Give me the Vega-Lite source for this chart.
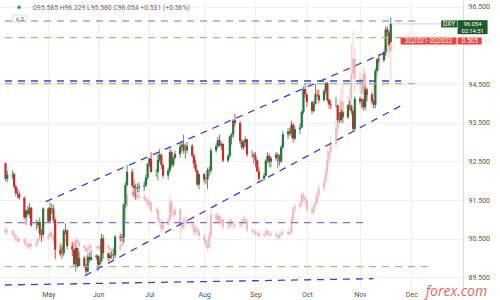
{
  "$schema": "https://vega.github.io/schema/vega-lite/v6.json",
  "width": 463,
  "height": 288,
  "autosize": {"type": "none"},
  "padding": {"left": 0, "top": 0, "right": 37, "bottom": 12},
  "background": "white",
  "config": {"view": {"stroke": null}, "font": "Roboto", "axis": {"title": null}},
  "datasets": {
    "px": [
      {"d":"2021-04-08","o":92.45,"h":92.48,"l":91.99,"c":92.05,"po":0.132,"pc":0.125,"ph":0.136,"pl":0.120},
      {"d":"2021-04-09","o":92.05,"h":92.26,"l":91.96,"c":92.16,"po":0.125,"pc":0.128,"ph":0.134,"pl":0.120},
      {"d":"2021-04-12","o":92.16,"h":92.27,"l":92.04,"c":92.17,"po":0.128,"pc":0.122,"ph":0.131,"pl":0.117},
      {"d":"2021-04-13","o":92.17,"h":92.22,"l":91.78,"c":91.85,"po":0.122,"pc":0.118,"ph":0.127,"pl":0.112},
      {"d":"2021-04-14","o":91.85,"h":91.90,"l":91.60,"c":91.68,"po":0.118,"pc":0.112,"ph":0.122,"pl":0.106},
      {"d":"2021-04-15","o":91.68,"h":91.80,"l":91.55,"c":91.66,"po":0.112,"pc":0.108,"ph":0.117,"pl":0.102},
      {"d":"2021-04-16","o":91.66,"h":91.74,"l":91.50,"c":91.56,"po":0.108,"pc":0.112,"ph":0.118,"pl":0.104},
      {"d":"2021-04-19","o":91.56,"h":91.59,"l":91.00,"c":91.05,"po":0.112,"pc":0.104,"ph":0.115,"pl":0.099},
      {"d":"2021-04-20","o":91.05,"h":91.26,"l":90.85,"c":91.23,"po":0.104,"pc":0.100,"ph":0.109,"pl":0.094},
      {"d":"2021-04-21","o":91.23,"h":91.35,"l":91.10,"c":91.14,"po":0.100,"pc":0.096,"ph":0.105,"pl":0.090},
      {"d":"2021-04-22","o":91.14,"h":91.42,"l":91.05,"c":91.30,"po":0.096,"pc":0.102,"ph":0.108,"pl":0.092},
      {"d":"2021-04-23","o":91.30,"h":91.32,"l":90.80,"c":90.85,"po":0.102,"pc":0.098,"ph":0.106,"pl":0.092},
      {"d":"2021-04-26","o":90.85,"h":91.00,"l":90.72,"c":90.85,"po":0.098,"pc":0.105,"ph":0.110,"pl":0.094},
      {"d":"2021-04-27","o":90.85,"h":90.97,"l":90.77,"c":90.93,"po":0.105,"pc":0.112,"ph":0.117,"pl":0.101},
      {"d":"2021-04-28","o":90.93,"h":91.05,"l":90.55,"c":90.63,"po":0.112,"pc":0.116,"ph":0.124,"pl":0.108},
      {"d":"2021-04-29","o":90.63,"h":90.75,"l":90.42,"c":90.60,"po":0.116,"pc":0.120,"ph":0.126,"pl":0.111},
      {"d":"2021-04-30","o":90.60,"h":91.31,"l":90.60,"c":91.28,"po":0.120,"pc":0.114,"ph":0.124,"pl":0.109},
      {"d":"2021-05-03","o":91.28,"h":91.32,"l":90.90,"c":90.95,"po":0.114,"pc":0.118,"ph":0.124,"pl":0.110},
      {"d":"2021-05-04","o":90.95,"h":91.44,"l":90.94,"c":91.29,"po":0.118,"pc":0.124,"ph":0.130,"pl":0.114},
      {"d":"2021-05-05","o":91.29,"h":91.40,"l":91.15,"c":91.27,"po":0.124,"pc":0.116,"ph":0.128,"pl":0.112},
      {"d":"2021-05-06","o":91.27,"h":91.38,"l":90.90,"c":90.99,"po":0.116,"pc":0.108,"ph":0.120,"pl":0.103},
      {"d":"2021-05-07","o":90.99,"h":91.05,"l":89.98,"c":90.22,"po":0.108,"pc":0.096,"ph":0.112,"pl":0.070},
      {"d":"2021-05-10","o":90.22,"h":90.35,"l":90.04,"c":90.11,"po":0.096,"pc":0.100,"ph":0.106,"pl":0.090},
      {"d":"2021-05-11","o":90.11,"h":90.28,"l":89.98,"c":90.12,"po":0.100,"pc":0.088,"ph":0.104,"pl":0.082},
      {"d":"2021-05-12","o":90.12,"h":90.75,"l":90.05,"c":90.70,"po":0.088,"pc":0.112,"ph":0.118,"pl":0.085},
      {"d":"2021-05-13","o":90.70,"h":90.90,"l":90.60,"c":90.72,"po":0.112,"pc":0.108,"ph":0.118,"pl":0.102},
      {"d":"2021-05-14","o":90.72,"h":90.73,"l":90.23,"c":90.31,"po":0.108,"pc":0.102,"ph":0.112,"pl":0.097},
      {"d":"2021-05-17","o":90.31,"h":90.38,"l":90.05,"c":90.22,"po":0.102,"pc":0.106,"ph":0.111,"pl":0.098},
      {"d":"2021-05-18","o":90.22,"h":90.22,"l":89.77,"c":89.84,"po":0.106,"pc":0.100,"ph":0.110,"pl":0.095},
      {"d":"2021-05-19","o":89.84,"h":90.34,"l":89.65,"c":90.26,"po":0.100,"pc":0.110,"ph":0.116,"pl":0.096},
      {"d":"2021-05-20","o":90.26,"h":90.28,"l":89.74,"c":89.79,"po":0.110,"pc":0.104,"ph":0.114,"pl":0.099},
      {"d":"2021-05-21","o":89.79,"h":90.16,"l":89.79,"c":90.00,"po":0.104,"pc":0.098,"ph":0.108,"pl":0.093},
      {"d":"2021-05-24","o":90.00,"h":90.06,"l":89.75,"c":89.80,"po":0.098,"pc":0.094,"ph":0.102,"pl":0.088},
      {"d":"2021-05-25","o":89.80,"h":89.85,"l":89.53,"c":89.65,"po":0.094,"pc":0.088,"ph":0.098,"pl":0.082},
      {"d":"2021-05-26","o":89.65,"h":90.10,"l":89.63,"c":90.03,"po":0.088,"pc":0.092,"ph":0.098,"pl":0.083},
      {"d":"2021-05-27","o":90.03,"h":90.15,"l":89.88,"c":89.95,"po":0.092,"pc":0.098,"ph":0.104,"pl":0.088},
      {"d":"2021-05-28","o":89.95,"h":90.20,"l":89.93,"c":90.03,"po":0.098,"pc":0.095,"ph":0.103,"pl":0.090},
      {"d":"2021-05-31","o":90.03,"h":90.10,"l":89.95,"c":90.06,"po":0.095,"pc":0.094,"ph":0.099,"pl":0.090},
      {"d":"2021-06-01","o":90.06,"h":90.08,"l":89.66,"c":89.83,"po":0.094,"pc":0.096,"ph":0.101,"pl":0.089},
      {"d":"2021-06-02","o":89.83,"h":90.03,"l":89.80,"c":89.91,"po":0.096,"pc":0.092,"ph":0.100,"pl":0.087},
      {"d":"2021-06-03","o":89.91,"h":90.63,"l":89.89,"c":90.51,"po":0.092,"pc":0.104,"ph":0.110,"pl":0.090},
      {"d":"2021-06-04","o":90.51,"h":90.60,"l":89.98,"c":90.12,"po":0.104,"pc":0.098,"ph":0.110,"pl":0.092},
      {"d":"2021-06-07","o":90.12,"h":90.14,"l":89.92,"c":90.00,"po":0.098,"pc":0.094,"ph":0.102,"pl":0.089},
      {"d":"2021-06-08","o":90.00,"h":90.15,"l":89.96,"c":90.07,"po":0.094,"pc":0.090,"ph":0.098,"pl":0.085},
      {"d":"2021-06-09","o":90.07,"h":90.17,"l":89.98,"c":90.09,"po":0.090,"pc":0.088,"ph":0.094,"pl":0.083},
      {"d":"2021-06-10","o":90.09,"h":90.22,"l":89.94,"c":90.07,"po":0.088,"pc":0.094,"ph":0.100,"pl":0.084},
      {"d":"2021-06-11","o":90.07,"h":90.60,"l":90.00,"c":90.55,"po":0.094,"pc":0.092,"ph":0.099,"pl":0.087},
      {"d":"2021-06-14","o":90.55,"h":90.64,"l":90.42,"c":90.52,"po":0.092,"pc":0.100,"ph":0.105,"pl":0.088},
      {"d":"2021-06-15","o":90.52,"h":90.62,"l":90.44,"c":90.53,"po":0.100,"pc":0.104,"ph":0.110,"pl":0.096},
      {"d":"2021-06-16","o":90.53,"h":91.41,"l":90.40,"c":91.38,"po":0.104,"pc":0.150,"ph":0.160,"pl":0.098},
      {"d":"2021-06-17","o":91.38,"h":91.97,"l":91.30,"c":91.89,"po":0.150,"pc":0.178,"ph":0.190,"pl":0.145},
      {"d":"2021-06-18","o":91.89,"h":92.41,"l":91.85,"c":92.23,"po":0.178,"pc":0.200,"ph":0.215,"pl":0.172},
      {"d":"2021-06-21","o":92.23,"h":92.31,"l":91.84,"c":91.87,"po":0.200,"pc":0.205,"ph":0.214,"pl":0.192},
      {"d":"2021-06-22","o":91.87,"h":92.04,"l":91.60,"c":91.81,"po":0.205,"pc":0.196,"ph":0.210,"pl":0.190},
      {"d":"2021-06-23","o":91.81,"h":91.92,"l":91.51,"c":91.80,"po":0.196,"pc":0.200,"ph":0.206,"pl":0.190},
      {"d":"2021-06-24","o":91.80,"h":91.93,"l":91.70,"c":91.82,"po":0.200,"pc":0.194,"ph":0.205,"pl":0.189},
      {"d":"2021-06-25","o":91.82,"h":91.95,"l":91.70,"c":91.85,"po":0.194,"pc":0.198,"ph":0.204,"pl":0.188},
      {"d":"2021-06-28","o":91.85,"h":91.98,"l":91.73,"c":91.88,"po":0.198,"pc":0.192,"ph":0.203,"pl":0.187},
      {"d":"2021-06-29","o":91.88,"h":92.16,"l":91.83,"c":92.08,"po":0.192,"pc":0.188,"ph":0.197,"pl":0.182},
      {"d":"2021-06-30","o":92.08,"h":92.45,"l":92.01,"c":92.44,"po":0.188,"pc":0.180,"ph":0.193,"pl":0.174},
      {"d":"2021-07-01","o":92.44,"h":92.60,"l":92.35,"c":92.57,"po":0.180,"pc":0.184,"ph":0.190,"pl":0.172},
      {"d":"2021-07-02","o":92.57,"h":92.74,"l":92.20,"c":92.23,"po":0.184,"pc":0.168,"ph":0.188,"pl":0.162},
      {"d":"2021-07-05","o":92.23,"h":92.30,"l":92.10,"c":92.23,"po":0.168,"pc":0.170,"ph":0.176,"pl":0.163},
      {"d":"2021-07-06","o":92.23,"h":92.70,"l":92.00,"c":92.54,"po":0.170,"pc":0.150,"ph":0.174,"pl":0.145},
      {"d":"2021-07-07","o":92.54,"h":92.82,"l":92.48,"c":92.67,"po":0.150,"pc":0.145,"ph":0.156,"pl":0.139},
      {"d":"2021-07-08","o":92.67,"h":92.70,"l":92.30,"c":92.41,"po":0.145,"pc":0.132,"ph":0.150,"pl":0.125},
      {"d":"2021-07-09","o":92.41,"h":92.45,"l":92.06,"c":92.13,"po":0.132,"pc":0.140,"ph":0.146,"pl":0.127},
      {"d":"2021-07-12","o":92.13,"h":92.34,"l":92.03,"c":92.27,"po":0.140,"pc":0.150,"ph":0.156,"pl":0.136},
      {"d":"2021-07-13","o":92.27,"h":92.83,"l":92.20,"c":92.74,"po":0.150,"pc":0.185,"ph":0.200,"pl":0.146},
      {"d":"2021-07-14","o":92.74,"h":92.79,"l":92.34,"c":92.41,"po":0.185,"pc":0.165,"ph":0.190,"pl":0.158},
      {"d":"2021-07-15","o":92.41,"h":92.63,"l":92.35,"c":92.59,"po":0.165,"pc":0.160,"ph":0.172,"pl":0.152},
      {"d":"2021-07-16","o":92.59,"h":92.78,"l":92.55,"c":92.69,"po":0.160,"pc":0.170,"ph":0.176,"pl":0.155},
      {"d":"2021-07-19","o":92.69,"h":92.96,"l":92.60,"c":92.88,"po":0.170,"pc":0.140,"ph":0.174,"pl":0.112},
      {"d":"2021-07-20","o":92.88,"h":93.04,"l":92.76,"c":92.93,"po":0.140,"pc":0.135,"ph":0.146,"pl":0.128},
      {"d":"2021-07-21","o":92.93,"h":93.19,"l":92.70,"c":92.78,"po":0.135,"pc":0.148,"ph":0.155,"pl":0.130},
      {"d":"2021-07-22","o":92.78,"h":92.96,"l":92.57,"c":92.79,"po":0.148,"pc":0.150,"ph":0.158,"pl":0.142},
      {"d":"2021-07-23","o":92.79,"h":93.00,"l":92.71,"c":92.90,"po":0.150,"pc":0.142,"ph":0.155,"pl":0.136},
      {"d":"2021-07-26","o":92.90,"h":92.95,"l":92.60,"c":92.65,"po":0.142,"pc":0.138,"ph":0.148,"pl":0.132},
      {"d":"2021-07-27","o":92.65,"h":92.70,"l":92.33,"c":92.44,"po":0.138,"pc":0.125,"ph":0.142,"pl":0.118},
      {"d":"2021-07-28","o":92.44,"h":92.55,"l":92.22,"c":92.27,"po":0.125,"pc":0.132,"ph":0.140,"pl":0.118},
      {"d":"2021-07-29","o":92.27,"h":92.28,"l":91.86,"c":91.90,"po":0.132,"pc":0.128,"ph":0.138,"pl":0.120},
      {"d":"2021-07-30","o":91.90,"h":92.19,"l":91.78,"c":92.17,"po":0.128,"pc":0.118,"ph":0.132,"pl":0.110},
      {"d":"2021-08-02","o":92.17,"h":92.20,"l":91.94,"c":92.03,"po":0.118,"pc":0.110,"ph":0.122,"pl":0.104},
      {"d":"2021-08-03","o":92.03,"h":92.10,"l":91.90,"c":92.04,"po":0.110,"pc":0.100,"ph":0.114,"pl":0.094},
      {"d":"2021-08-04","o":92.04,"h":92.34,"l":91.78,"c":92.28,"po":0.100,"pc":0.095,"ph":0.108,"pl":0.088},
      {"d":"2021-08-05","o":92.28,"h":92.37,"l":92.12,"c":92.26,"po":0.095,"pc":0.120,"ph":0.126,"pl":0.092},
      {"d":"2021-08-06","o":92.26,"h":92.85,"l":92.18,"c":92.78,"po":0.120,"pc":0.160,"ph":0.172,"pl":0.116},
      {"d":"2021-08-09","o":92.78,"h":92.97,"l":92.72,"c":92.89,"po":0.160,"pc":0.150,"ph":0.165,"pl":0.144},
      {"d":"2021-08-10","o":92.89,"h":93.13,"l":92.84,"c":93.05,"po":0.150,"pc":0.158,"ph":0.164,"pl":0.144},
      {"d":"2021-08-11","o":93.05,"h":93.19,"l":92.88,"c":92.91,"po":0.158,"pc":0.145,"ph":0.162,"pl":0.138},
      {"d":"2021-08-12","o":92.91,"h":93.00,"l":92.80,"c":92.95,"po":0.145,"pc":0.150,"ph":0.156,"pl":0.140},
      {"d":"2021-08-13","o":92.95,"h":92.97,"l":92.47,"c":92.52,"po":0.150,"pc":0.135,"ph":0.154,"pl":0.130},
      {"d":"2021-08-16","o":92.52,"h":92.70,"l":92.47,"c":92.64,"po":0.135,"pc":0.138,"ph":0.144,"pl":0.130},
      {"d":"2021-08-17","o":92.64,"h":93.17,"l":92.58,"c":93.14,"po":0.138,"pc":0.148,"ph":0.154,"pl":0.133},
      {"d":"2021-08-18","o":93.14,"h":93.24,"l":92.93,"c":93.20,"po":0.148,"pc":0.142,"ph":0.152,"pl":0.136},
      {"d":"2021-08-19","o":93.20,"h":93.60,"l":93.10,"c":93.56,"po":0.142,"pc":0.140,"ph":0.148,"pl":0.133},
      {"d":"2021-08-20","o":93.56,"h":93.73,"l":93.40,"c":93.49,"po":0.140,"pc":0.138,"ph":0.146,"pl":0.132},
      {"d":"2021-08-23","o":93.49,"h":93.55,"l":92.95,"c":93.02,"po":0.138,"pc":0.140,"ph":0.146,"pl":0.132},
      {"d":"2021-08-24","o":93.02,"h":93.06,"l":92.80,"c":92.86,"po":0.140,"pc":0.148,"ph":0.154,"pl":0.136},
      {"d":"2021-08-25","o":92.86,"h":93.05,"l":92.80,"c":92.99,"po":0.148,"pc":0.152,"ph":0.158,"pl":0.142},
      {"d":"2021-08-26","o":92.99,"h":93.15,"l":92.88,"c":93.07,"po":0.152,"pc":0.148,"ph":0.157,"pl":0.142},
      {"d":"2021-08-27","o":93.07,"h":93.09,"l":92.61,"c":92.68,"po":0.148,"pc":0.130,"ph":0.152,"pl":0.124},
      {"d":"2021-08-30","o":92.68,"h":92.78,"l":92.59,"c":92.68,"po":0.130,"pc":0.128,"ph":0.134,"pl":0.122},
      {"d":"2021-08-31","o":92.68,"h":92.73,"l":92.44,"c":92.63,"po":0.128,"pc":0.125,"ph":0.132,"pl":0.120},
      {"d":"2021-09-01","o":92.63,"h":92.74,"l":92.35,"c":92.53,"po":0.125,"pc":0.122,"ph":0.129,"pl":0.117},
      {"d":"2021-09-02","o":92.53,"h":92.55,"l":92.22,"c":92.24,"po":0.122,"pc":0.124,"ph":0.128,"pl":0.117},
      {"d":"2021-09-03","o":92.24,"h":92.35,"l":91.94,"c":92.05,"po":0.124,"pc":0.118,"ph":0.130,"pl":0.112},
      {"d":"2021-09-06","o":92.05,"h":92.20,"l":92.00,"c":92.13,"po":0.118,"pc":0.120,"ph":0.124,"pl":0.114},
      {"d":"2021-09-07","o":92.13,"h":92.56,"l":92.10,"c":92.52,"po":0.120,"pc":0.128,"ph":0.133,"pl":0.116},
      {"d":"2021-09-08","o":92.52,"h":92.74,"l":92.45,"c":92.64,"po":0.128,"pc":0.124,"ph":0.132,"pl":0.119},
      {"d":"2021-09-09","o":92.64,"h":92.70,"l":92.36,"c":92.49,"po":0.124,"pc":0.120,"ph":0.128,"pl":0.115},
      {"d":"2021-09-10","o":92.49,"h":92.63,"l":92.34,"c":92.58,"po":0.120,"pc":0.122,"ph":0.127,"pl":0.116},
      {"d":"2021-09-13","o":92.58,"h":92.74,"l":92.52,"c":92.67,"po":0.122,"pc":0.118,"ph":0.126,"pl":0.113},
      {"d":"2021-09-14","o":92.67,"h":92.72,"l":92.32,"c":92.63,"po":0.118,"pc":0.115,"ph":0.122,"pl":0.110},
      {"d":"2021-09-15","o":92.63,"h":92.68,"l":92.39,"c":92.50,"po":0.115,"pc":0.120,"ph":0.125,"pl":0.111},
      {"d":"2021-09-16","o":92.50,"h":92.92,"l":92.45,"c":92.87,"po":0.120,"pc":0.124,"ph":0.129,"pl":0.116},
      {"d":"2021-09-17","o":92.87,"h":93.28,"l":92.82,"c":93.20,"po":0.124,"pc":0.126,"ph":0.132,"pl":0.119},
      {"d":"2021-09-20","o":93.20,"h":93.36,"l":93.08,"c":93.27,"po":0.126,"pc":0.122,"ph":0.130,"pl":0.117},
      {"d":"2021-09-21","o":93.27,"h":93.37,"l":93.15,"c":93.22,"po":0.122,"pc":0.125,"ph":0.130,"pl":0.118},
      {"d":"2021-09-22","o":93.22,"h":93.55,"l":93.10,"c":93.45,"po":0.125,"pc":0.150,"ph":0.158,"pl":0.120},
      {"d":"2021-09-23","o":93.45,"h":93.49,"l":92.98,"c":93.09,"po":0.150,"pc":0.172,"ph":0.180,"pl":0.146},
      {"d":"2021-09-24","o":93.09,"h":93.42,"l":93.05,"c":93.33,"po":0.172,"pc":0.176,"ph":0.184,"pl":0.166},
      {"d":"2021-09-27","o":93.33,"h":93.48,"l":93.20,"c":93.38,"po":0.176,"pc":0.182,"ph":0.190,"pl":0.170},
      {"d":"2021-09-28","o":93.38,"h":93.82,"l":93.35,"c":93.78,"po":0.182,"pc":0.200,"ph":0.206,"pl":0.178},
      {"d":"2021-09-29","o":93.78,"h":94.44,"l":93.72,"c":94.37,"po":0.200,"pc":0.194,"ph":0.206,"pl":0.186},
      {"d":"2021-09-30","o":94.37,"h":94.50,"l":94.14,"c":94.23,"po":0.194,"pc":0.188,"ph":0.200,"pl":0.180},
      {"d":"2021-10-01","o":94.23,"h":94.25,"l":93.90,"c":94.04,"po":0.188,"pc":0.170,"ph":0.192,"pl":0.164},
      {"d":"2021-10-04","o":94.04,"h":94.05,"l":93.72,"c":93.80,"po":0.170,"pc":0.165,"ph":0.176,"pl":0.158},
      {"d":"2021-10-05","o":93.80,"h":94.06,"l":93.78,"c":93.98,"po":0.165,"pc":0.178,"ph":0.184,"pl":0.160},
      {"d":"2021-10-06","o":93.98,"h":94.50,"l":93.97,"c":94.23,"po":0.178,"pc":0.185,"ph":0.195,"pl":0.172},
      {"d":"2021-10-07","o":94.23,"h":94.35,"l":94.15,"c":94.21,"po":0.185,"pc":0.200,"ph":0.208,"pl":0.180},
      {"d":"2021-10-08","o":94.21,"h":94.35,"l":94.00,"c":94.08,"po":0.200,"pc":0.212,"ph":0.222,"pl":0.194},
      {"d":"2021-10-11","o":94.08,"h":94.37,"l":94.05,"c":94.31,"po":0.212,"pc":0.225,"ph":0.235,"pl":0.206},
      {"d":"2021-10-12","o":94.31,"h":94.56,"l":94.23,"c":94.52,"po":0.225,"pc":0.245,"ph":0.258,"pl":0.220},
      {"d":"2021-10-13","o":94.52,"h":94.55,"l":94.02,"c":94.09,"po":0.245,"pc":0.270,"ph":0.290,"pl":0.238},
      {"d":"2021-10-14","o":94.09,"h":94.13,"l":93.86,"c":93.97,"po":0.270,"pc":0.285,"ph":0.300,"pl":0.262},
      {"d":"2021-10-15","o":93.97,"h":94.08,"l":93.84,"c":93.95,"po":0.285,"pc":0.300,"ph":0.318,"pl":0.278},
      {"d":"2021-10-18","o":93.95,"h":94.17,"l":93.89,"c":93.95,"po":0.300,"pc":0.330,"ph":0.350,"pl":0.292},
      {"d":"2021-10-19","o":93.95,"h":93.97,"l":93.52,"c":93.57,"po":0.330,"pc":0.345,"ph":0.372,"pl":0.320},
      {"d":"2021-10-20","o":93.57,"h":93.78,"l":93.50,"c":93.57,"po":0.345,"pc":0.360,"ph":0.390,"pl":0.335},
      {"d":"2021-10-21","o":93.57,"h":93.85,"l":93.50,"c":93.77,"po":0.360,"pc":0.385,"ph":0.410,"pl":0.350},
      {"d":"2021-10-22","o":93.77,"h":93.83,"l":93.49,"c":93.64,"po":0.385,"pc":0.370,"ph":0.420,"pl":0.355},
      {"d":"2021-10-25","o":93.64,"h":93.98,"l":93.60,"c":93.95,"po":0.370,"pc":0.375,"ph":0.398,"pl":0.352},
      {"d":"2021-10-26","o":93.95,"h":94.07,"l":93.83,"c":93.93,"po":0.375,"pc":0.390,"ph":0.412,"pl":0.365},
      {"d":"2021-10-27","o":93.93,"h":93.97,"l":93.71,"c":93.80,"po":0.390,"pc":0.440,"ph":0.500,"pl":0.380},
      {"d":"2021-10-28","o":93.80,"h":93.85,"l":93.28,"c":93.34,"po":0.440,"pc":0.470,"ph":0.526,"pl":0.430},
      {"d":"2021-10-29","o":93.34,"h":94.18,"l":93.28,"c":94.12,"po":0.470,"pc":0.430,"ph":0.490,"pl":0.405},
      {"d":"2021-11-01","o":94.12,"h":94.17,"l":93.97,"c":94.05,"po":0.430,"pc":0.420,"ph":0.445,"pl":0.402},
      {"d":"2021-11-02","o":94.05,"h":94.14,"l":93.87,"c":94.09,"po":0.420,"pc":0.400,"ph":0.432,"pl":0.385},
      {"d":"2021-11-03","o":94.09,"h":94.13,"l":93.82,"c":93.90,"po":0.400,"pc":0.440,"ph":0.455,"pl":0.380},
      {"d":"2021-11-04","o":93.90,"h":94.44,"l":93.82,"c":94.36,"po":0.440,"pc":0.405,"ph":0.450,"pl":0.395},
      {"d":"2021-11-05","o":94.36,"h":94.40,"l":94.06,"c":94.22,"po":0.405,"pc":0.385,"ph":0.415,"pl":0.365},
      {"d":"2021-11-08","o":94.22,"h":94.27,"l":93.99,"c":94.05,"po":0.385,"pc":0.400,"ph":0.412,"pl":0.372},
      {"d":"2021-11-09","o":94.05,"h":94.10,"l":93.87,"c":93.96,"po":0.400,"pc":0.395,"ph":0.420,"pl":0.380},
      {"d":"2021-11-10","o":93.96,"h":94.90,"l":93.87,"c":94.84,"po":0.395,"pc":0.440,"ph":0.452,"pl":0.388},
      {"d":"2021-11-11","o":94.84,"h":95.18,"l":94.83,"c":95.14,"po":0.440,"pc":0.450,"ph":0.465,"pl":0.432},
      {"d":"2021-11-12","o":95.14,"h":95.27,"l":95.05,"c":95.12,"po":0.450,"pc":0.470,"ph":0.482,"pl":0.445},
      {"d":"2021-11-15","o":95.12,"h":95.35,"l":95.07,"c":95.33,"po":0.470,"pc":0.475,"ph":0.492,"pl":0.462},
      {"d":"2021-11-16","o":95.33,"h":95.98,"l":95.24,"c":95.91,"po":0.475,"pc":0.495,"ph":0.507,"pl":0.468},
      {"d":"2021-11-17","o":95.91,"h":96.00,"l":95.73,"c":95.83,"po":0.495,"pc":0.500,"ph":0.512,"pl":0.480},
      {"d":"2021-11-18","o":95.83,"h":95.90,"l":95.52,"c":95.52,"po":0.500,"pc":0.485,"ph":0.505,"pl":0.470},
      {"d":"2021-11-19","o":95.585,"h":96.229,"l":95.58,"c":96.054,"po":0.485,"pc":0.505,"ph":0.540,"pl":0.427}
    ]
  },
  "layer": [
    {
      "data": {"name": "px"},
      "layer": [
        {
          "mark": {"type": "rule", "color": "#f28b8b", "opacity": 0.55, "strokeWidth": 0.8},
          "encoding": {
            "x": {"field": "d", "type": "temporal",
              "scale": {"type": "utc", "domain": [{"year": 2021, "month": 4, "date": 7, "hours": 16, "minutes": 48, "utc": true}, {"year": 2021, "month": 12, "date": 28, "hours": 6, "minutes": 30, "utc": true}]},
              "axis": {"orient": "bottom", "format": "%b", "labelFontSize": 7, "labelColor": "#555555", "ticks": false, "domain": false, "labelPadding": 2, "labelFlush": false, "labelOverlap": false, "grid": true, "gridColor": "#f1f1f4",
                "values": [{"year": 2021, "month": 5, "date": 3, "utc": true}, {"year": 2021, "month": 6, "date": 1, "utc": true}, {"year": 2021, "month": 7, "date": 1, "utc": true}, {"year": 2021, "month": 8, "date": 2, "utc": true}, {"year": 2021, "month": 9, "date": 1, "utc": true}, {"year": 2021, "month": 10, "date": 1, "utc": true}, {"year": 2021, "month": 11, "date": 1, "utc": true}, {"year": 2021, "month": 12, "date": 1, "utc": true}]}},
            "y": {"field": "pl", "type": "quantitative", "scale": {"domain": [0.0146, 0.5864], "nice": false, "zero": false}, "axis": null},
            "y2": {"field": "ph"}
          }
        },
        {
          "mark": {"type": "bar", "color": "#f28b8b", "opacity": 0.5, "width": 2},
          "encoding": {
            "x": {"field": "d", "type": "temporal"},
            "y": {"field": "po", "type": "quantitative"},
            "y2": {"field": "pc"}
          }
        }
      ]
    },
    {
      "layer": [
        {
          "data": {"name": "px"},
          "mark": {"type": "rule", "strokeWidth": 0.8},
          "encoding": {
            "x": {"field": "d", "type": "temporal"},
            "y": {"field": "l", "type": "quantitative", "scale": {"domain": [89.225, 96.673], "nice": false, "zero": false},
              "axis": {"orient": "right", "values": [89.5, 90, 90.5, 91, 91.5, 92, 92.5, 93, 93.5, 94, 94.5, 95, 96.5], "format": ".3f", "labelFontSize": 7, "labelColor": "#555555", "ticks": false, "domain": true, "domainColor": "#dddddd", "labelPadding": 5, "grid": true, "gridColor": "#f1f1f4"}},
            "y2": {"field": "h"},
            "color": {"condition": {"test": "datum.c >= datum.o", "value": "#1f7a3a"}, "value": "#c62a2a"}
          }
        },
        {
          "data": {"name": "px"},
          "mark": {"type": "bar", "width": 2.2},
          "encoding": {
            "x": {"field": "d", "type": "temporal"},
            "y": {"field": "o", "type": "quantitative"},
            "y2": {"field": "c"},
            "color": {"condition": {"test": "datum.c >= datum.o", "value": "#1f7a3a"}, "value": "#c62a2a"}
          }
        },
        {
          "data": {"values": [
            {"d1": "2021-04-07T16:48:00Z", "d2": "2021-12-05T14:00:00Z", "v": 96.13},
            {"d1": "2021-04-07T16:48:00Z", "d2": "2021-11-03T05:00:00Z", "v": 90.914}
          ]},
          "mark": {"type": "rule", "color": "#9466d6", "strokeWidth": 1.2, "strokeDash": [7, 6]},
          "encoding": {"x": {"field": "d1", "type": "temporal"}, "x2": {"field": "d2"}, "y": {"field": "v", "type": "quantitative"}}
        },
        {
          "data": {"values": [
            {"d1": "2021-04-07T16:48:00Z", "d2": "2021-11-25T02:00:00Z", "v": 95.70},
            {"d1": "2021-04-07T16:48:00Z", "d2": "2021-12-05T14:00:00Z", "v": 94.509},
            {"d1": "2021-04-07T16:48:00Z", "d2": "2021-12-13T05:00:00Z", "v": 89.776}
          ]},
          "mark": {"type": "rule", "color": "#8cc97a", "strokeWidth": 1.2, "strokeDash": [7, 6]},
          "encoding": {"x": {"field": "d1", "type": "temporal"}, "x2": {"field": "d2"}, "y": {"field": "v", "type": "quantitative"}}
        },
        {
          "data": {"values": [
            {"d1": "2021-04-07T16:48:00Z", "d2": "2021-11-25T02:00:00Z", "v": 94.578}
          ]},
          "mark": {"type": "rule", "color": "#3d3dd9", "strokeWidth": 1.3, "strokeDash": [7, 6]},
          "encoding": {"x": {"field": "d1", "type": "temporal"}, "x2": {"field": "d2"}, "y": {"field": "v", "type": "quantitative"}}
        },
        {
          "data": {"values": [
            {"g": "upper", "d": "2021-05-01T12:00:00Z", "v": 91.457},
            {"g": "upper", "d": "2021-11-15T14:24:00Z", "v": 95.31},
            {"g": "lower", "d": "2021-05-24T09:36:00Z", "v": 89.543},
            {"g": "lower", "d": "2021-11-24T14:24:00Z", "v": 93.932},
            {"g": "base", "d": "2021-04-07T16:48:00Z", "v": 89.303},
            {"g": "base", "d": "2021-11-08T21:36:00Z", "v": 89.466}
          ]},
          "mark": {"type": "line", "color": "#3d3dd9", "strokeWidth": 1.3, "strokeDash": [7, 6]},
          "encoding": {"x": {"field": "d", "type": "temporal"}, "y": {"field": "v", "type": "quantitative"}, "detail": {"field": "g", "type": "nominal"}}
        },
        {
          "data": {"values": [{"d1": "2021-11-19", "d2": "2021-12-28T06:30:00Z", "v": 96.054}]},
          "mark": {"type": "rule", "color": "#bdbdbd", "strokeWidth": 0.7},
          "encoding": {"x": {"field": "d1", "type": "temporal"}, "x2": {"field": "d2"}, "y": {"field": "v", "type": "quantitative"}}
        },
        {
          "data": {"values": [{"d": "2021-12-23T02:24:00Z", "v": 96.054}]},
          "mark": {"type": "point", "shape": "M-1,-0.44L1,-0.44L1,0.44L-1,0.44Z", "size": 256, "filled": true, "color": "#235f32", "opacity": 1},
          "encoding": {"x": {"field": "d", "type": "temporal"}, "y": {"field": "v", "type": "quantitative"}}
        },
        {
          "data": {"values": [{"d": "2022-01-05T19:00:00Z", "v": 95.97}]},
          "mark": {"type": "point", "shape": "M-1,-0.467L1,-0.467L1,0.467L-1,0.467Z", "size": 900, "filled": true, "color": "#1f5a2d", "opacity": 1},
          "encoding": {"x": {"field": "d", "type": "temporal"}, "y": {"field": "v", "type": "quantitative"}}
        },
        {
          "data": {"values": [{"d": "2021-12-11T02:00:00Z", "v": 95.613}]},
          "mark": {"type": "point", "shape": "M-1,-0.125L1,-0.125L1,0.125L-1,0.125Z", "size": 3136, "filled": true, "color": "#e8413f", "opacity": 1},
          "encoding": {"x": {"field": "d", "type": "temporal"}, "y": {"field": "v", "type": "quantitative"}}
        },
        {
          "data": {"values": [{"d": "2022-01-04T02:00:00Z", "v": 95.613}]},
          "mark": {"type": "point", "shape": "M-1,-0.29L1,-0.29L1,0.29L-1,0.29Z", "size": 576, "filled": true, "color": "#e8413f", "opacity": 1},
          "encoding": {"x": {"field": "d", "type": "temporal"}, "y": {"field": "v", "type": "quantitative"}}
        },
        {
          "data": {"values": [{"d": "2021-04-16T07:00:00Z", "v": 96.195}]},
          "mark": {"type": "point", "shape": "M-1,-0.5L1,-0.5L1,0.5L-1,0.5Z", "size": 196, "filled": false, "color": "#d4d4d4", "strokeWidth": 0.7, "opacity": 1},
          "encoding": {"x": {"field": "d", "type": "temporal"}, "y": {"field": "v", "type": "quantitative"}}
        },
        {
          "data": {"values": [{"d": "2021-04-15T22:00:00Z", "v": 96.484}]},
          "mark": {"type": "point", "shape": "circle", "size": 12, "filled": true, "color": "#16a07a", "opacity": 1},
          "encoding": {"x": {"field": "d", "type": "temporal"}, "y": {"field": "v", "type": "quantitative"}}
        },
        {
          "data": {"values": [
            {"d": "2021-04-23T17:00:00Z", "v": 96.458, "t": "O95.585 H96.229 L95.580 C96.054 +0.531 (+0.56%)"}
          ]},
          "mark": {"type": "text", "align": "left", "baseline": "middle", "fontSize": 6.8, "color": "#666666"},
          "encoding": {"x": {"field": "d", "type": "temporal"}, "y": {"field": "v", "type": "quantitative"}, "text": {"field": "t"}}
        },
        {
          "data": {"values": [
            {"d": "2021-04-16T07:00:00Z", "v": 96.19, "t": "∨ 5"}
          ]},
          "mark": {"type": "text", "align": "center", "baseline": "middle", "fontSize": 5.5, "color": "#666666"},
          "encoding": {"x": {"field": "d", "type": "temporal"}, "y": {"field": "v", "type": "quantitative"}, "text": {"field": "t"}}
        },
        {
          "data": {"values": [
            {"d": "2021-12-23T02:24:00Z", "v": 96.054, "t": "DXY"},
            {"d": "2021-12-11T02:00:00Z", "v": 95.613, "t": "2Q2021-2Q2022"},
            {"d": "2022-01-04T02:00:00Z", "v": 95.613, "t": "0.505"}
          ]},
          "mark": {"type": "text", "align": "center", "baseline": "middle", "fontSize": 6.5, "color": "white"},
          "encoding": {"x": {"field": "d", "type": "temporal"}, "y": {"field": "v", "type": "quantitative"}, "text": {"field": "t"}}
        },
        {
          "data": {"values": [
            {"d": "2022-01-05T19:00:00Z", "v": 96.063, "t": "96.054"},
            {"d": "2022-01-05T19:00:00Z", "v": 95.877, "t": "02:14:51"}
          ]},
          "mark": {"type": "text", "align": "center", "baseline": "middle", "fontSize": 5.8, "color": "white"},
          "encoding": {"x": {"field": "d", "type": "temporal"}, "y": {"field": "v", "type": "quantitative"}, "text": {"field": "t"}}
        },
        {
          "data": {"values": [
            {"d": "2021-12-09T10:00:00Z", "v": 89.122, "t": "forex.com"}
          ]},
          "mark": {"type": "text", "align": "left", "baseline": "middle", "fontSize": 14, "fontStyle": "italic", "font": "Open Sans", "color": "#e2474f", "opacity": 0.85},
          "encoding": {"x": {"field": "d", "type": "temporal"}, "y": {"field": "v", "type": "quantitative"}, "text": {"field": "t"}}
        }
      ]
    }
  ],
  "resolve": {"scale": {"y": "independent"}}
}
